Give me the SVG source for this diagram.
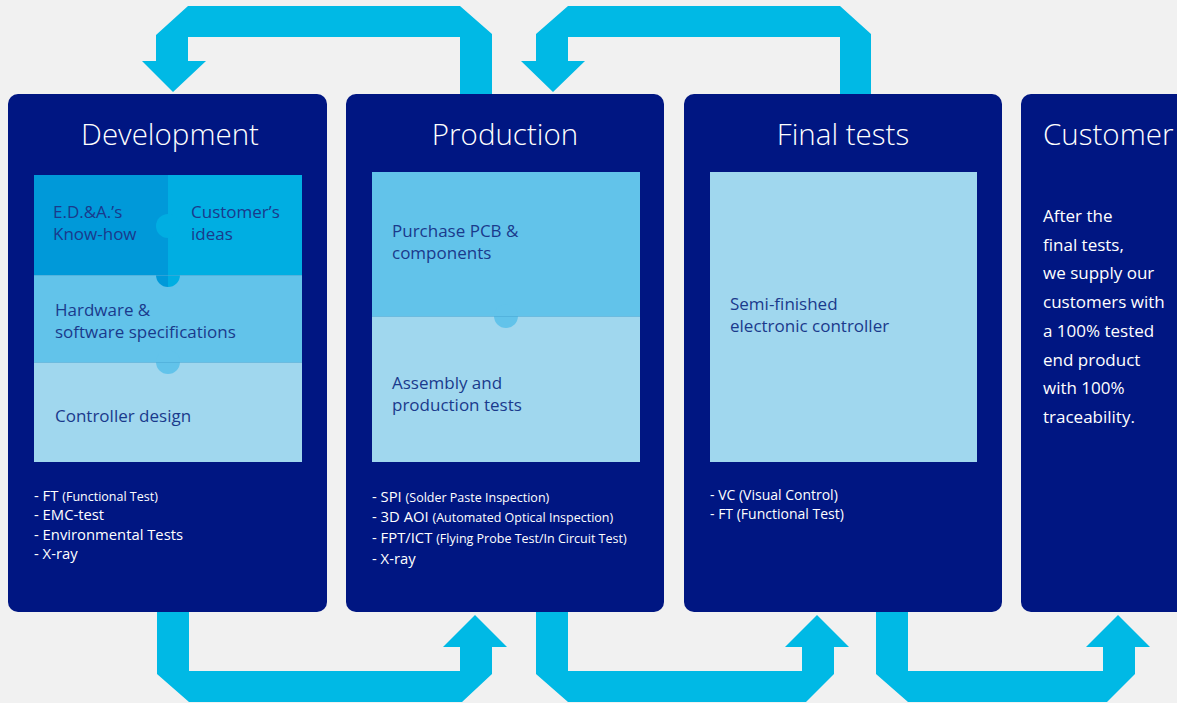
<svg xmlns="http://www.w3.org/2000/svg" width="1177" height="703" viewBox="0 0 1177 703">
<style>
.box{fill:#001682}
.arr{fill:#00b9e5}
.title{font-family:"Open Sans","Noto Sans",sans-serif;font-weight:300;font-size:29.5px;fill:#ffffff}
.inner{font-family:"Open Sans","Noto Sans",sans-serif;font-size:17px;fill:#1a3a8c}
.list{font-family:"Open Sans","Noto Sans",sans-serif;font-size:14.8px;fill:#ffffff}
.list2{font-family:"Open Sans","Noto Sans",sans-serif;font-size:14px;fill:#ffffff}
.small{font-size:12.5px}
.cust{font-family:"Open Sans","Noto Sans",sans-serif;font-size:17px;fill:#ffffff}
.c1{fill:#0099d9}
.c2{fill:#00aee2}
.c3{fill:#62c3ea}
.c4{fill:#a0d7ee}
.seam{stroke:#4aa9d6;stroke-width:1;opacity:0.6}
</style>
<rect x="0" y="0" width="1177" height="703" fill="#f1f1f1"/>
<g id="connectors">
<polygon class="arr" points="142,61 156,61 156,35 188,6 460,6 492,34 492,100 460,100 460,37 188,37 188,61 206,61 173,92"/>
<polygon class="arr" points="521,61 536,61 536,34 568,6 840,6 871,34 871,100 840,100 840,37 568,37 568,61 585,61 553,92"/>
<polygon class="arr" points="157,605 189,605 189,671 460,671 460,647 443,647 475,615 507,647 492,647 492,674 462,702 189,702 157,674"/>
<polygon class="arr" points="536,605 568,605 568,671 802,671 802,647 785,647 817,615 849,647 834,647 834,674 806,702 568,702 536,674"/>
<polygon class="arr" points="876,605 908,605 908,671 1103,671 1103,647 1086,647 1118,615 1150,647 1135,647 1135,674 1107,702 908,702 876,674"/>
</g>
<g id="development">
<rect class="box" x="8" y="94" width="319" height="518" rx="10"/>
<text class="title" x="170" y="145" text-anchor="middle">Development</text>
<rect class="c4" x="34" y="362" width="268" height="100"/>
<rect class="c3" x="34" y="275" width="268" height="87"/>
<circle class="c3" cx="168" cy="362" r="12"/>
<rect class="c1" x="34" y="175" width="134" height="100"/>
<rect class="c2" x="168" y="175" width="134" height="100"/>
<circle class="c2" cx="168" cy="226" r="12"/>
<path class="c1" d="M156,275 A12,12 0 0 0 168,287 L168,275 Z"/>
<path class="c2" d="M168,275 L168,287 A12,12 0 0 0 180,275 Z"/>
<line class="seam" x1="34" y1="275.5" x2="302" y2="275.5"/>
<line class="seam" x1="34" y1="362.5" x2="302" y2="362.5"/>
<text class="inner" x="53" y="218">E.D.&amp;A.’s</text>
<text class="inner" x="53" y="240">Know-how</text>
<text class="inner" x="191" y="218">Customer’s</text>
<text class="inner" x="191" y="240">ideas</text>
<text class="inner" x="55" y="316">Hardware &amp;</text>
<text class="inner" x="55" y="338">software specifications</text>
<text class="inner" x="55" y="422">Controller design</text>
<text class="list" x="34" y="501">- FT <tspan class="small">(Functional Test)</tspan></text>
<text class="list" x="34" y="520">- EMC-test</text>
<text class="list" x="34" y="540">- Environmental Tests</text>
<text class="list" x="34" y="559">- X-ray</text>
</g>
<g id="production">
<rect class="box" x="346" y="94" width="318" height="518" rx="10"/>
<text class="title" x="505" y="145" text-anchor="middle">Production</text>
<rect class="c4" x="372" y="316" width="268" height="146"/>
<rect class="c3" x="372" y="172" width="268" height="144"/>
<circle class="c3" cx="506" cy="316" r="12"/>
<line class="seam" x1="372" y1="316.5" x2="640" y2="316.5"/>
<text class="inner" x="392" y="237">Purchase PCB &amp;</text>
<text class="inner" x="392" y="259">components</text>
<text class="inner" x="392" y="389">Assembly and</text>
<text class="inner" x="392" y="411">production tests</text>
<text class="list" x="372" y="502">- SPI <tspan class="small">(Solder Paste Inspection)</tspan></text>
<text class="list" x="372" y="522">- 3D AOI <tspan class="small">(Automated Optical Inspection)</tspan></text>
<text class="list" x="372" y="543">- FPT/ICT <tspan class="small">(Flying Probe Test/In Circuit Test)</tspan></text>
<text class="list" x="372" y="564">- X-ray</text>
</g>
<g id="final-tests">
<rect class="box" x="684" y="94" width="318" height="518" rx="10"/>
<text class="title" x="843" y="145" text-anchor="middle">Final tests</text>
<rect class="c4" x="710" y="172" width="267" height="290"/>
<text class="inner" x="730" y="310">Semi-finished</text>
<text class="inner" x="730" y="332">electronic controller</text>
<text class="list2" x="710" y="500">- VC (Visual Control)</text>
<text class="list2" x="710" y="519">- FT (Functional Test)</text>
</g>
<g id="customer">
<rect class="box" x="1021" y="94" width="180" height="518" rx="10"/>
<text class="title" x="1043" y="145">Customer</text>
<text class="cust" x="1043" y="222">After the</text>
<text class="cust" x="1043" y="251">final tests,</text>
<text class="cust" x="1043" y="279">we supply our</text>
<text class="cust" x="1043" y="308">customers with</text>
<text class="cust" x="1043" y="337">a 100% tested</text>
<text class="cust" x="1043" y="366">end product</text>
<text class="cust" x="1043" y="394">with 100%</text>
<text class="cust" x="1043" y="423">traceability.</text>
</g>
</svg>
